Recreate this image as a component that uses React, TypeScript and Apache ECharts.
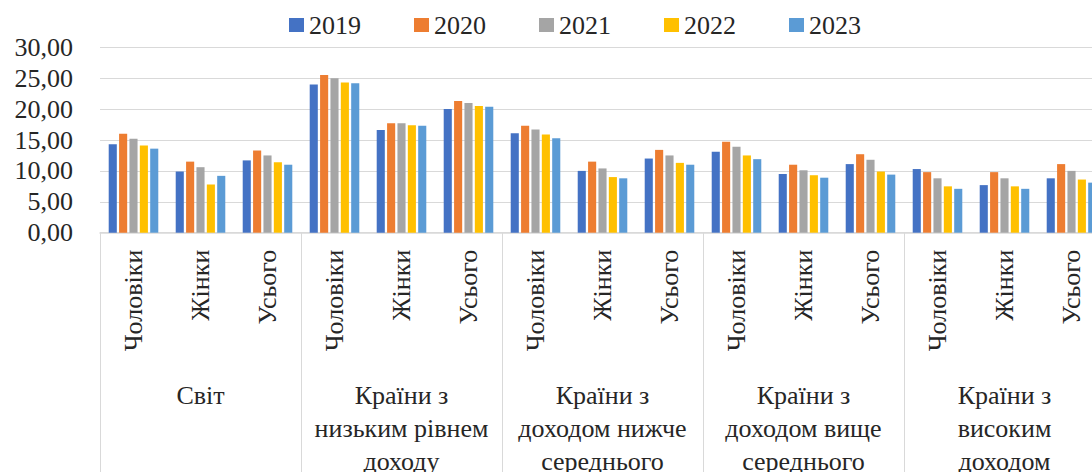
import React, { useEffect, useRef } from "react";
import * as echarts from "echarts";

const categories = [
  "Чоловіки", "Жінки", "Усього",
  "Чоловіки", "Жінки", "Усього",
  "Чоловіки", "Жінки", "Усього",
  "Чоловіки", "Жінки", "Усього",
  "Чоловіки", "Жінки", "Усього",
];
const groups = [
  "Світ",
  "Країни з\nнизьким рівнем\nдоходу",
  "Країни з\nдоходом нижче\nсереднього",
  "Країни з\nдоходом вище\nсереднього",
  "Країни з\nвисоким\nдоходом",
];
const years = ["2019", "2020", "2021", "2022", "2023"];
const colors = ["#4472C4", "#ED7D31", "#A5A5A5", "#FFC000", "#5B9BD5"];

const v2019 = [14.3, 9.9, 11.7, 24.0, 16.6, 20.0, 16.1, 10.0, 12.0, 13.1, 9.5, 11.1, 10.3, 7.7, 8.8];
const v2020 = [16.0, 11.5, 13.3, 25.5, 17.7, 21.3, 17.3, 11.5, 13.4, 14.7, 11.0, 12.7, 9.8, 9.8, 11.1];
const v2021 = [15.2, 10.6, 12.5, 25.0, 17.7, 21.0, 16.7, 10.4, 12.5, 13.9, 10.1, 11.8, 8.8, 8.8, 10.0];
const v2022 = [14.1, 7.8, 11.4, 24.3, 17.4, 20.5, 15.9, 9.0, 11.3, 12.5, 9.3, 9.9, 7.5, 7.5, 8.6];
const v2023 = [13.6, 9.2, 11.0, 24.2, 17.3, 20.4, 15.3, 8.8, 11.0, 11.9, 8.9, 9.4, 7.1, 7.1, 8.1];
const seriesValues = [v2019, v2020, v2021, v2022, v2023];

const FONT = "'Times New Roman', 'Liberation Serif', 'DejaVu Serif', serif";
const TEXT = "#262626";
const LINE = "#d9d9d9";

export default function App() {
  const ref = useRef<HTMLDivElement>(null);
  useEffect(() => {
    if (!ref.current) return;
    const chart = echarts.init(ref.current, undefined, { renderer: "svg" });
    const ts = (extra: any) => ({ fontSize: 26, color: TEXT, fontFamily: FONT, ...extra });
    chart.setOption({
      animation: false,
      color: colors,
      textStyle: { fontFamily: FONT },
      legend: {
        left: 289,
        top: 12,
        padding: 0,
        itemWidth: 15,
        itemHeight: 14,
        itemGap: 53,
        icon: "rect",
        textStyle: ts({}),
        data: years,
      },
      grid: { left: 100, right: 15, top: 47.3, bottom: 287.3, containLabel: false },
      xAxis: [
        {
          type: "category",
          data: categories,
          axisLine: { show: true, lineStyle: { color: LINE, width: 1.5 } },
          axisTick: { show: false },
          axisLabel: ts({ interval: 0, rotate: 90, margin: 17 }),
        },
        {
          type: "category",
          data: groups,
          position: "bottom",
          axisLine: { show: false },
          axisTick: { show: true, length: 260, lineStyle: { color: LINE, width: 1 } },
          axisLabel: ts({ interval: 0, margin: 146, lineHeight: 33, align: "center" }),
        },
      ],
      yAxis: {
        type: "value",
        min: 0,
        max: 30,
        interval: 5,
        axisLine: { show: false },
        axisTick: { show: false },
        splitLine: { lineStyle: { color: LINE, width: 1 } },
        axisLabel: ts({
          margin: 27,
          formatter: (v: number) => v.toFixed(2).replace(".", ","),
        }),
      },
      series: years.map((y, i) => ({
        name: y,
        type: "bar",
        xAxisIndex: 0,
        data: seriesValues[i],
        barGap: "28%",
        barCategoryGap: "26%",
        itemStyle: { color: colors[i] },
      })),
    });
    return () => chart.dispose();
  }, []);
  return (
    <div
      style={{
        position: "fixed",
        left: 0,
        top: 0,
        width: "100vw",
        height: "100vh",
        overflow: "hidden",
        background: "#fff",
      }}
    >
      <div ref={ref} style={{ width: 1120, height: 520 }} />
    </div>
  );
}
